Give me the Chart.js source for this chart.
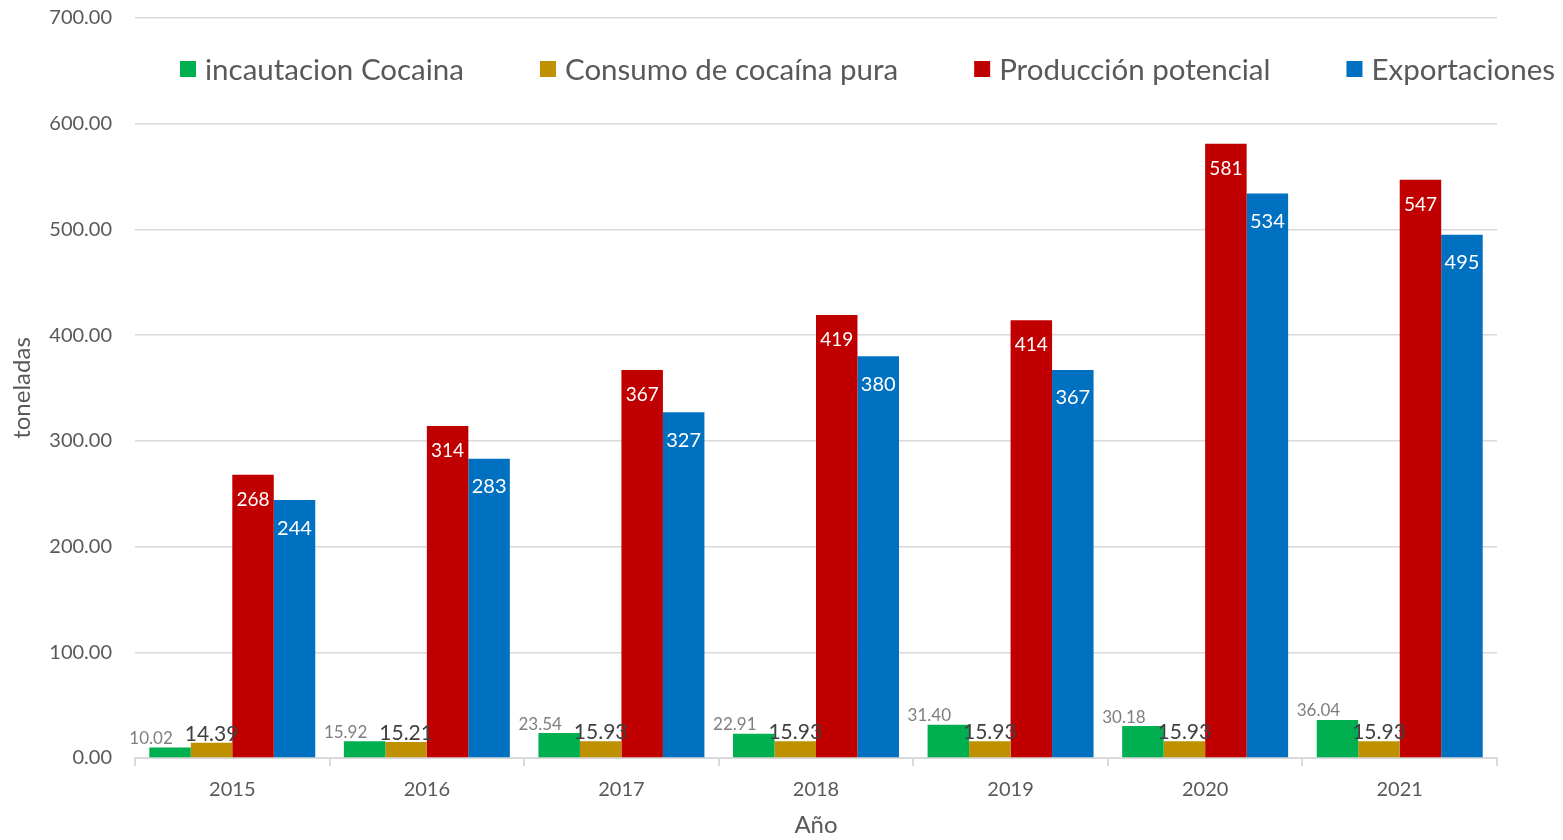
<!DOCTYPE html>
<html>
<head>
<meta charset="utf-8">
<script src="https://cdn.jsdelivr.net/npm/chart.js@4.4.1/dist/chart.umd.min.js"></script>
<style>
  body { margin: 0; background: #ffffff; }
  #wrap { width: 1563px; height: 840px; }
</style>
</head>
<body>
<div id="wrap"><canvas id="chart" width="1563" height="840"></canvas></div>
<script>
// Chart data
const years = ['2015', '2016', '2017', '2018', '2019', '2020', '2021'];
const incautacion = [10.02, 15.92, 23.54, 22.91, 31.40, 30.18, 36.04];
const consumo = [14.39, 15.21, 15.93, 15.93, 15.93, 15.93, 15.93];
const produccion = [268, 314, 367, 419, 414, 581, 547];
const exportaciones = [244, 283, 327, 380, 367, 534, 495];

const FONT = 'Lato, "Open Sans", sans-serif';
const TEXT_GREY = '#595959';

// Draws value labels over the bars
const barLabels = {
    id: 'barLabels',
    afterDatasetsDraw(chart) {
        const ctx = chart.ctx;
        chart.data.datasets.forEach((ds, i) => {
            const meta = chart.getDatasetMeta(i);
            const st = ds.labelStyle;
            if (!st || meta.hidden) return;
            meta.data.forEach((bar, j) => {
                ctx.save();
                ctx.font = st.font;
                ctx.fillStyle = st.color;
                ctx.textAlign = 'center';
                ctx.textBaseline = 'middle';
                ctx.fillText(st.format(ds.data[j]), bar.x + st.dx, bar.y + st.dy);
                ctx.restore();
            });
        });
    }
};

// Legend drawn inside the plot, on one row like the original
const topLegend = {
    id: 'topLegend',
    afterDraw(chart) {
        const ctx = chart.ctx;
        let x = 180;
        const y = 69;
        const box = 16;
        ctx.save();
        ctx.font = '29.5px ' + FONT;
        ctx.textBaseline = 'middle';
        ctx.textAlign = 'left';
        chart.data.datasets.forEach(ds => {
            ctx.fillStyle = ds.backgroundColor;
            ctx.fillRect(x, y - box / 2, box, box);
            x += box + 9;
            ctx.fillStyle = TEXT_GREY;
            ctx.fillText(ds.label, x, y + 1);
            x += ctx.measureText(ds.label).width + 76;
        });
        ctx.restore();
    }
};

const ctx = document.getElementById('chart').getContext('2d');

new Chart(ctx, {
    type: 'bar',
    data: {
        labels: years,
        datasets: [
            {
                label: 'incautacion Cocaina',
                data: incautacion,
                backgroundColor: '#00B050',
                labelStyle: { font: '17px ' + FONT, color: '#7f7f7f', dx: -19, dy: -9, format: v => v.toFixed(2) }
            },
            {
                label: 'Consumo de cocaína pura',
                data: consumo,
                backgroundColor: '#BF9000',
                labelStyle: { font: '21px ' + FONT, color: '#404040', dx: 0, dy: -9, format: v => v.toFixed(2) }
            },
            {
                label: 'Producción potencial',
                data: produccion,
                backgroundColor: '#C00000',
                labelStyle: { font: '19px ' + FONT, color: '#ffffff', dx: 0, dy: 25, format: v => v.toFixed(0) }
            },
            {
                label: 'Exportaciones',
                data: exportaciones,
                backgroundColor: '#0070C0',
                labelStyle: { font: '20px ' + FONT, color: '#ffffff', dx: 0, dy: 28, format: v => v.toFixed(0) }
            }
        ]
    },
    options: {
        responsive: false,
        animation: false,
        layout: {
            padding: { top: 18, right: 66, bottom: 0, left: 0 }
        },
        datasets: {
            bar: {
                categoryPercentage: 0.853,
                barPercentage: 1,
                borderWidth: 0
            }
        },
        scales: {
            x: {
                grid: {
                    drawOnChartArea: false,
                    drawTicks: true,
                    tickLength: 8,
                    color: '#d9d9d9',
                    lineWidth: 2
                },
                border: { color: '#d9d9d9', width: 2 },
                ticks: {
                    color: TEXT_GREY,
                    padding: 12,
                    font: { family: FONT, size: 20 }
                },
                title: {
                    display: true,
                    text: 'Año',
                    color: TEXT_GREY,
                    padding: { top: 0, bottom: 0 },
                    font: { family: FONT, size: 24 }
                },
                afterFit(scale) { scale.height = 82; }
            },
            y: {
                min: 0,
                max: 700,
                grid: {
                    color: '#d9d9d9',
                    lineWidth: 1.5,
                    drawTicks: false
                },
                border: { display: false },
                ticks: {
                    stepSize: 100,
                    color: TEXT_GREY,
                    padding: 23,
                    font: { family: FONT, size: 20 },
                    callback: v => v.toFixed(2)
                },
                title: {
                    display: true,
                    text: 'toneladas',
                    color: TEXT_GREY,
                    padding: { top: 8, bottom: 0 },
                    font: { family: FONT, size: 24 }
                },
                afterFit(scale) {
                    scale.width = 135;
                    // keep the tick padding from pushing the plot down
                    scale.paddingTop = 0;
                    scale.paddingBottom = 0;
                }
            }
        },
        plugins: {
            legend: { display: false },
            tooltip: { enabled: false }
        }
    },
    plugins: [barLabels, topLegend]
});
</script>
</body>
</html>
